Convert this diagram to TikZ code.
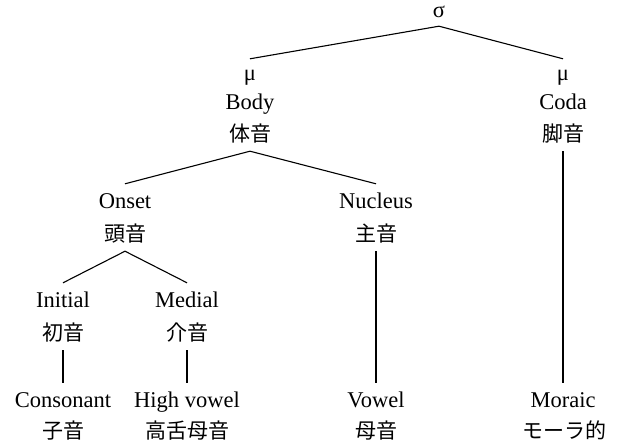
\documentclass[tikz,border=0pt]{standalone}
\usepackage{fontspec}
\setmainfont{Liberation Serif}
\newfontfamily\cjk{Noto Sans CJK JP}
\tikzset{
  lat/.style={anchor=base, inner xsep=0pt, inner ysep=0pt, font=\fontsize{22.5}{27}\selectfont, text height=15pt, text depth=5pt},
  han/.style={anchor=base, inner xsep=0pt, inner ysep=0pt, font=\cjk\fontsize{21}{25}\selectfont, text height=18pt, text depth=3pt},
  apex/.style={lat, inner ysep=3pt},
  up/.style={lat, inner ysep=9pt},
  mu/.style={lat, inner ysep=6pt},
  low/.style={han, inner ysep=7pt},
  branch/.style={line width=1.1pt},
  stem/.style={line width=2pt},
}
\begin{document}
\begin{tikzpicture}[x=1pt,y=-1pt]
\fill[white] (0,0) rectangle (620,444);
\useasboundingbox (0,0) rectangle (620,444);
% top
\node[apex] (sigma) at (439,18) {σ};
% body
\node[mu] (bodymu) at (250,80) {μ};
\node[lat] (body) at (250,109) {Body};
\node[low] (bodyh) at (250,141) {体音};
% coda
\node[mu] (codamu) at (563,80) {μ};
\node[lat] (coda) at (563,109) {Coda};
\node[low] (codah) at (563,141) {脚音};
% onset, nucleus
\node[up] (onset) at (125,208) {Onset};
\node[low] (onseth) at (125,241) {頭音};
\node[up] (nucleus) at (376,208) {Nucleus};
\node[low] (nucleush) at (376,241) {主音};
% initial, medial
\node[up] (initial) at (63,307) {Initial};
\node[low] (initialh) at (63,340) {初音};
\node[up] (medial) at (187,307) {Medial};
\node[low] (medialh) at (187,340) {介音};
% leaves
\node[up] (consonant) at (63,407) {Consonant};
\node[han] (consonanth) at (63,438) {子音};
\node[up] (highvowel) at (187,407) {High vowel};
\node[han] (highvowelh) at (187,438) {高舌母音};
\node[up] (vowel) at (376,407) {Vowel};
\node[han] (vowelh) at (376,438) {母音};
\node[up] (moraic) at (563,407) {Moraic};
\node[han] (moraich) at (564,438) {モーラ的};
% connectors
\draw[branch] (sigma.south) -- (bodymu.north);
\draw[branch] (sigma.south) -- (codamu.north);
\draw[branch] (bodyh.south) -- (onset.north);
\draw[branch] (bodyh.south) -- (nucleus.north);
\draw[branch] (onseth.south) -- (initial.north);
\draw[branch] (onseth.south) -- (medial.north);
\draw[stem] (initialh.south) -- (consonant.north);
\draw[stem] (medialh.south) -- (highvowel.north);
\draw[stem] (nucleush.south) -- (vowel.north);
\draw[stem] (codah.south) -- (moraic.north);
\end{tikzpicture}
\end{document}
